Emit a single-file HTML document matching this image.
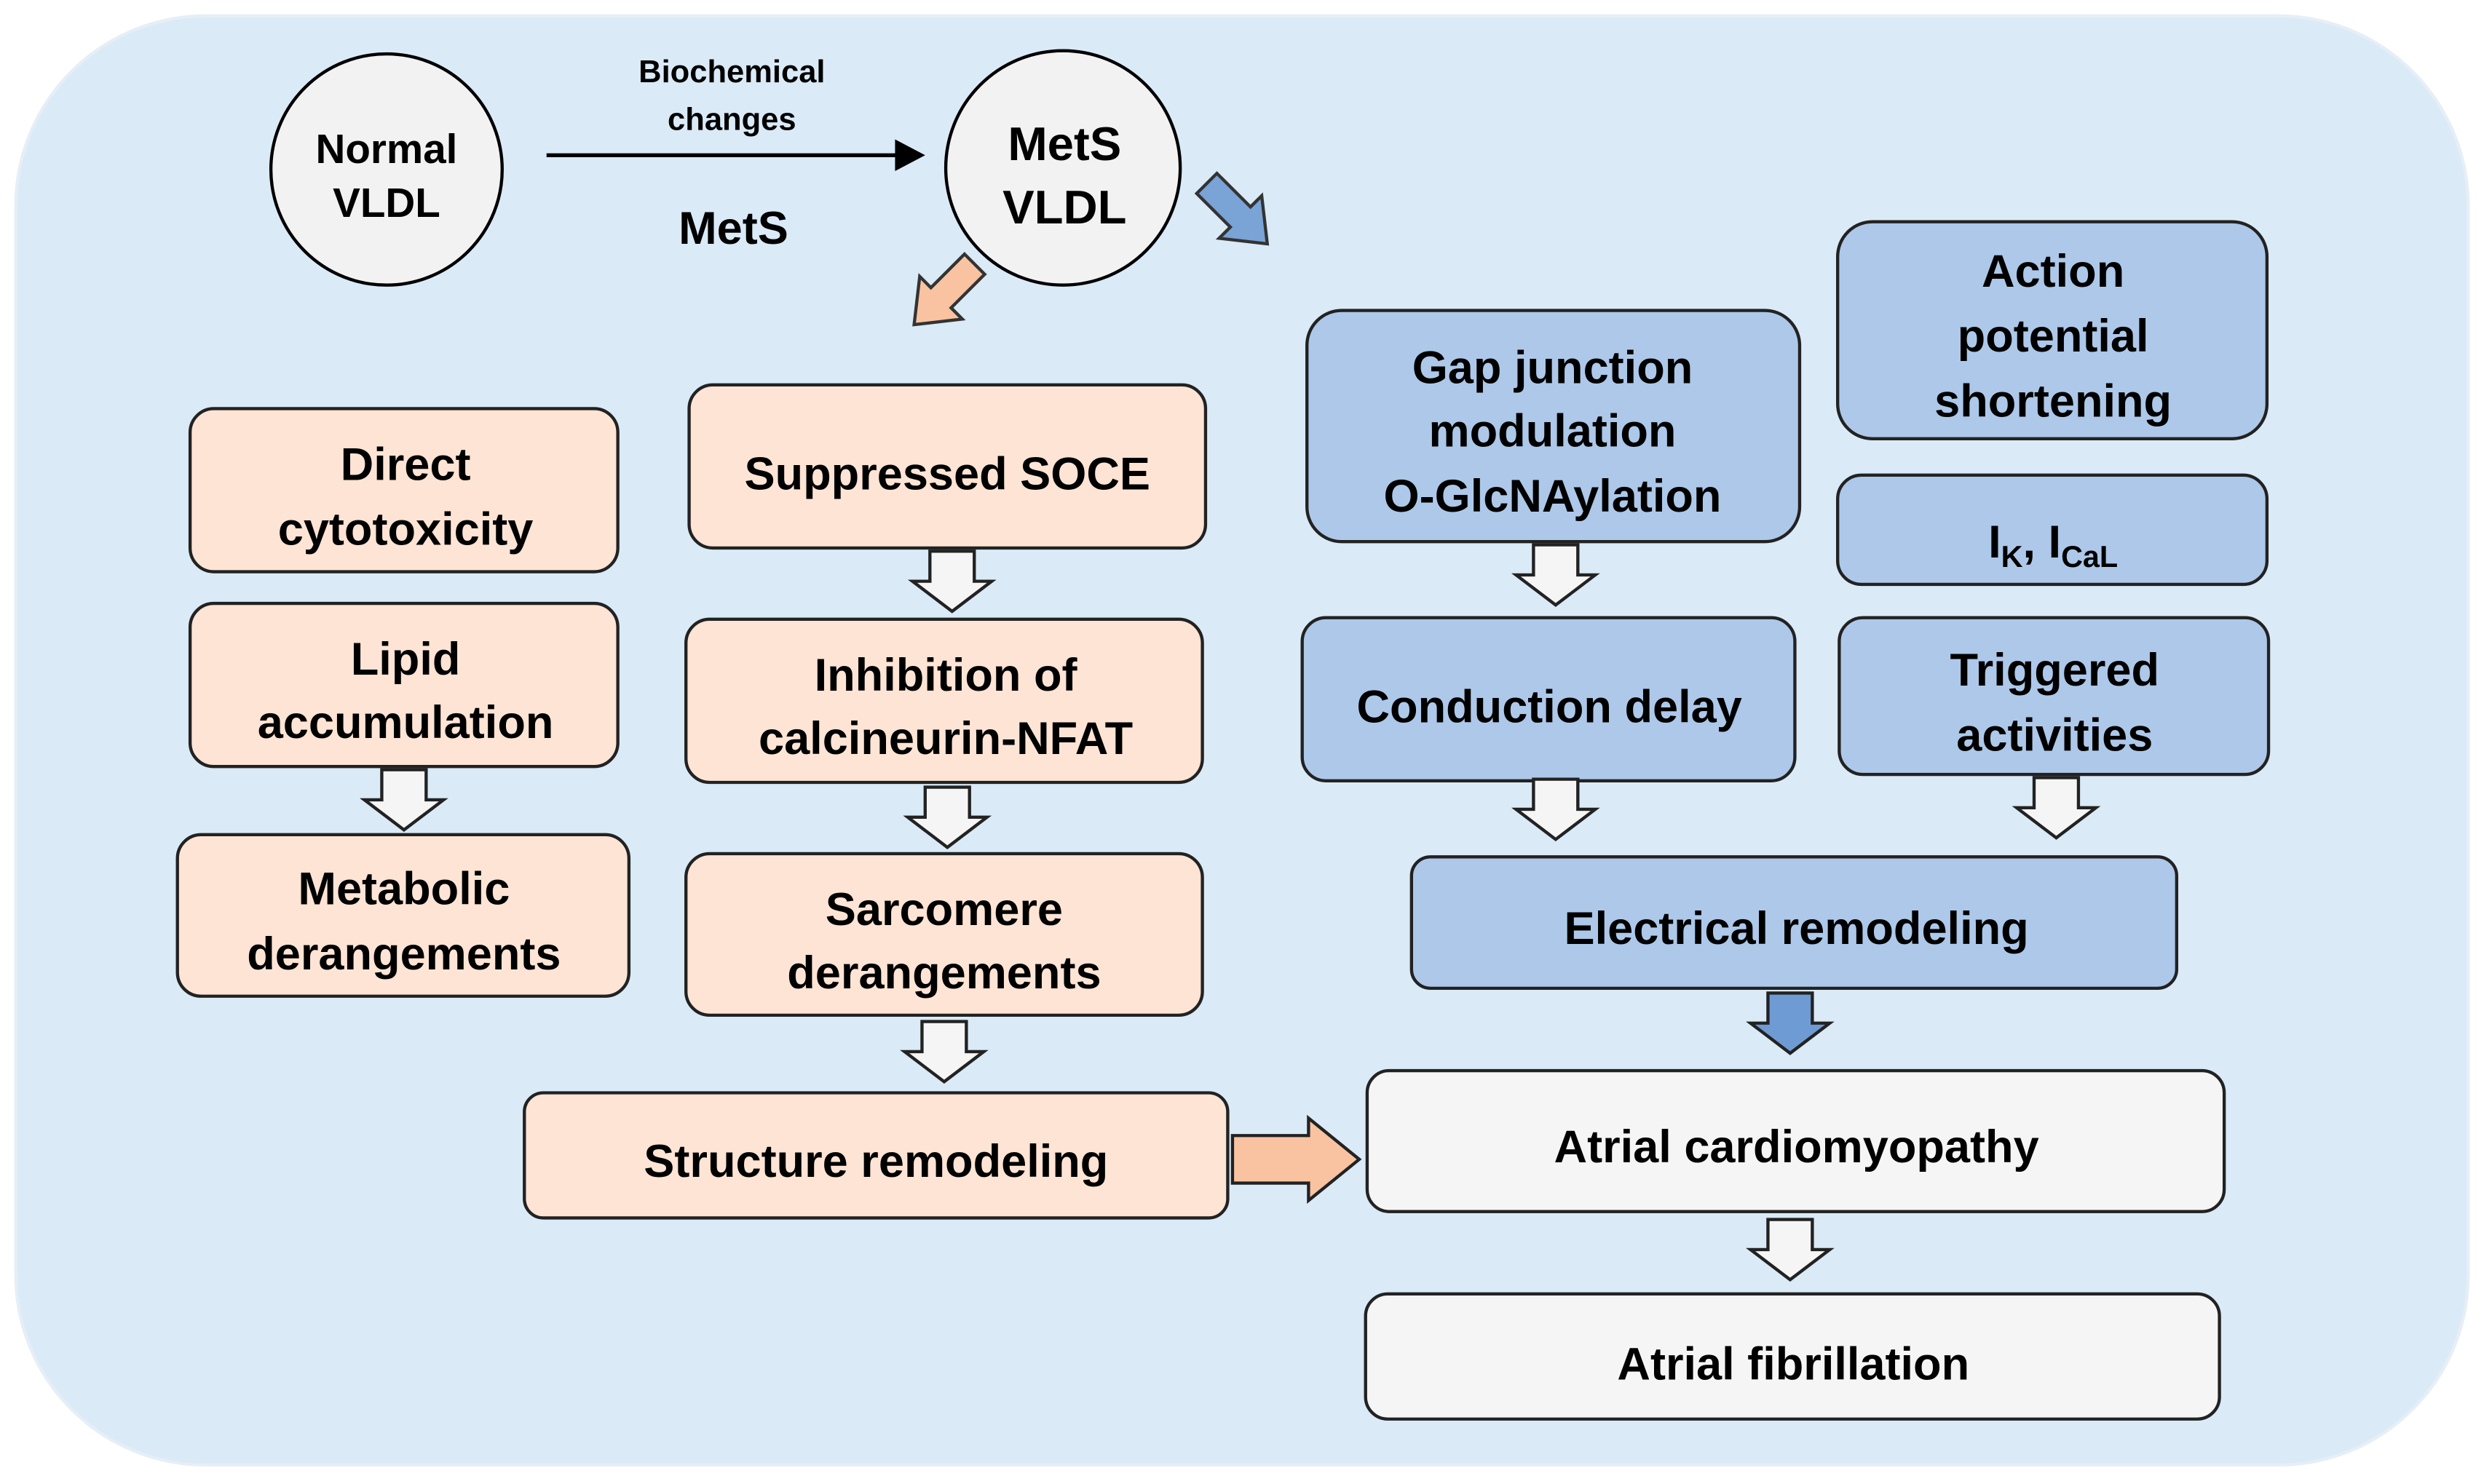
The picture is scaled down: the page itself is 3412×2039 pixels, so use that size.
<!DOCTYPE html>
<html><head><meta charset="utf-8"><style>
html,body{margin:0;padding:0;background:#fff;}
svg{display:block}
text{font-family:"Liberation Sans",sans-serif;font-weight:bold;fill:#000;text-anchor:middle}
</style></head><body>
<svg width="3412" height="2039" viewBox="0 0 1568 937" xmlns="http://www.w3.org/2000/svg">
<defs>
<g id="da"><path d="M-14,0 H14 V19 H25 L0,38 L-25,19 H-14 Z" stroke="#222" stroke-width="2"/></g>
</defs>
<rect x="10" y="10" width="1548" height="915" rx="120" fill="#daeaf7" stroke="#e6eef6" stroke-width="2"/>
<circle cx="244" cy="107" r="73" fill="#f2f2f2" stroke="#000" stroke-width="2"/>
<circle cx="671" cy="106" r="74" fill="#f2f2f2" stroke="#000" stroke-width="2"/>
<text x="244" y="103" font-size="26">Normal</text>
<text x="244" y="137" font-size="26">VLDL</text>
<text x="672" y="101" font-size="30">MetS</text>
<text x="672" y="141" font-size="30">VLDL</text>
<line x1="345" y1="98" x2="566" y2="98" stroke="#000" stroke-width="2.5"/>
<path d="M565,88 L584,98 L565,108 Z" fill="#000"/>
<text x="462" y="52" font-size="20">Biochemical</text>
<text x="462" y="82" font-size="20">changes</text>
<text x="463" y="154" font-size="29">MetS</text>
<g transform="translate(594,188) rotate(45)"><path d="M-9,-30 H9 V0 H19 L0,24 L-19,0 H-9 Z" fill="#f9c3a1" stroke="#333" stroke-width="2"/></g>
<g transform="translate(783,137) rotate(-45)"><path d="M-9,-30 H9 V0 H19 L0,24 L-19,0 H-9 Z" fill="#7aa3d6" stroke="#333" stroke-width="2"/></g>
<g stroke="#222" stroke-width="2">
<rect x="120" y="258" width="270" height="103" rx="15" fill="#fde4d5"/>
<rect x="120" y="381" width="270" height="103" rx="15" fill="#fde4d5"/>
<rect x="112" y="527" width="285" height="102" rx="15" fill="#fde4d5"/>
<rect x="435" y="243" width="326" height="103" rx="15" fill="#fde4d5"/>
<rect x="433" y="391" width="326" height="103" rx="15" fill="#fde4d5"/>
<rect x="433" y="539" width="326" height="102" rx="15" fill="#fde4d5"/>
<rect x="331" y="690" width="444" height="79" rx="12" fill="#fde4d5"/>
<rect x="825" y="196" width="311" height="146" rx="22" fill="#adc8e9"/>
<rect x="1160" y="140" width="271" height="137" rx="22" fill="#adc8e9"/>
<rect x="1160" y="300" width="271" height="69" rx="15" fill="#adc8e9"/>
<rect x="822" y="390" width="311" height="103" rx="15" fill="#adc8e9"/>
<rect x="1161" y="390" width="271" height="99" rx="15" fill="#adc8e9"/>
<rect x="891" y="541" width="483" height="83" rx="12" fill="#adc8e9"/>
<rect x="863" y="676" width="541" height="89" rx="14" fill="#f5f5f5"/>
<rect x="862" y="817" width="539" height="79" rx="14" fill="#f5f5f5"/>
</g>
<g fill="#f5f5f5">
<use href="#da" x="601" y="348"/>
<use href="#da" x="255" y="486"/>
<use href="#da" x="598" y="497"/>
<use href="#da" x="596" y="645"/>
<use href="#da" x="982" y="344"/>
<use href="#da" x="982" y="492"/>
<use href="#da" x="1298" y="491"/>
<use href="#da" x="1130" y="770"/>
</g>
<use href="#da" x="1130" y="627" fill="#6f9bd4"/>
<path d="M778,717 H826 V706 L858,732 L826,758 V747 H778 Z" fill="#f9c3a1" stroke="#222" stroke-width="2"/>
<g font-size="29">
<text x="256" y="303">Direct</text>
<text x="256" y="344">cytotoxicity</text>
<text x="256" y="426">Lipid</text>
<text x="256" y="466">accumulation</text>
<text x="255" y="571">Metabolic</text>
<text x="255" y="612">derangements</text>
<text x="598" y="309">Suppressed SOCE</text>
<text x="597" y="436">Inhibition of</text>
<text x="597" y="476">calcineurin-NFAT</text>
<text x="596" y="584">Sarcomere</text>
<text x="596" y="624">derangements</text>
<text x="553" y="743">Structure remodeling</text>
<text x="980" y="242">Gap junction</text>
<text x="980" y="282">modulation</text>
<text x="980" y="323">O-GlcNAylation</text>
<text x="1296" y="181">Action</text>
<text x="1296" y="222">potential</text>
<text x="1296" y="263">shortening</text>
<text x="1296" y="352">I<tspan font-size="19" dy="6">K</tspan><tspan dy="-6">, I</tspan><tspan font-size="19" dy="6">CaL</tspan></text>
<text x="978" y="456">Conduction delay</text>
<text x="1297" y="433">Triggered</text>
<text x="1297" y="474">activities</text>
<text x="1134" y="596">Electrical remodeling</text>
<text x="1134" y="734">Atrial cardiomyopathy</text>
<text x="1132" y="871">Atrial fibrillation</text>
</g>
</svg>
</body></html>
